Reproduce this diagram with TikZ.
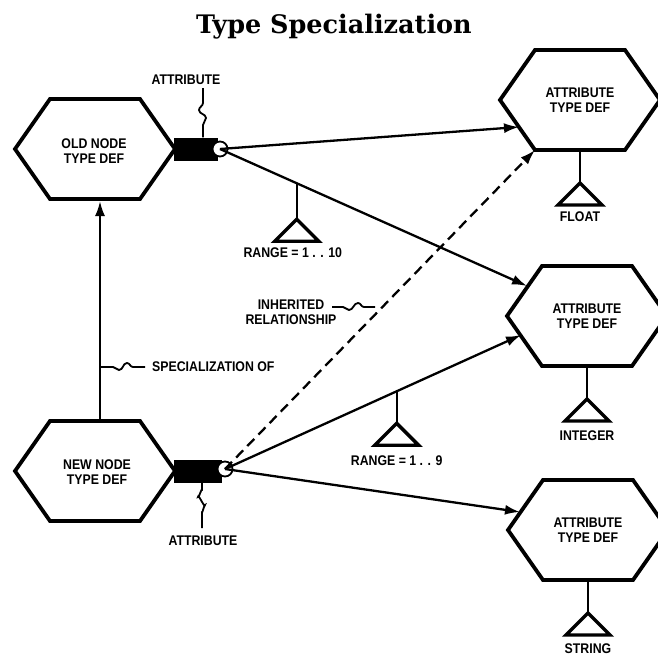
\documentclass[tikz,border=0pt]{standalone}
\usepackage{fontspec}
\usetikzlibrary{arrows.meta,calc}
\newfontfamily\labfont[FakeStretch=0.88]{Liberation Sans}
\newfontfamily\titlefont{DejaVu Serif}
\newcommand\hexshape[1]{\draw[hex] ($(#1)+(-80,0)$) -- ++(35,-50) -- ++(90,0) -- ++(35,50) -- ++(-35,50) -- ++(-90,0) -- cycle;}
\newcommand\typetri[3]{% #1 top point, #2 stem length, #3 apex name
  \draw[conn] (#1) -- ($(#1)+(0,#2)$) coordinate (#3);
  \draw[tri] (#3) -- ++(22,22) -- ++(-44,0) -- cycle;}
\begin{document}
\begin{tikzpicture}[x=1pt,y=-1pt,
  hex/.style={line width=3.8pt, line join=miter},
  lab/.style={font=\labfont\bfseries\fontsize{14}{15.5}\selectfont, align=center, inner sep=0pt},
  conn/.style={line width=2.3pt},
  wavy/.style={line width=1.8pt},
  arr/.style={conn, -{Latex[length=15pt,width=10pt]}},
  tri/.style={line width=3.4pt, line join=miter},
  bar/.style={fill=black, inner sep=0pt, anchor=west},
  ring/.style={circle, draw, fill=white, line width=1.8pt, minimum size=15pt, inner sep=0pt},
]
\useasboundingbox (0,0) rectangle (658,656);
\clip (0,0) rectangle (658,656);

% title
\node[font=\titlefont\bfseries\fontsize{25.5}{29}\selectfont, anchor=base] (title) at (334,33) {Type Specialization};

% hexagon nodes
\node[lab] (old) at (94,151) {OLD NODE\\TYPE DEF};
\node[lab] (new) at (97,472) {NEW NODE\\TYPE DEF};
\node[lab] (t1) at (580,100) {ATTRIBUTE\\TYPE DEF};
\node[lab] (t2) at (587,316) {ATTRIBUTE\\TYPE DEF};
\node[lab] (t3) at (588,530) {ATTRIBUTE\\TYPE DEF};
\hexshape{95,149}
\hexshape{95,471}
\hexshape{t1}
\hexshape{t2}
\hexshape{t3}

% type triangles
\coordinate (t1b) at ($(t1)+(0,50)$);
\coordinate (t2b) at ($(t2)+(0,50)$);
\coordinate (t3b) at ($(t3)+(0,50)$);
\typetri{t1b}{33}{t1ap}
\typetri{t2b}{33}{t2ap}
\typetri{t3b}{33}{t3ap}
\node[lab] (float) at ($(t1ap)+(0,34)$) {FLOAT};
\node[lab] (integer) at ($(t2ap)+(0,37)$) {INTEGER};
\node[lab] (string) at ($(t3ap)+(0,36)$) {STRING};

% attribute bars
\node[bar, minimum width=44pt, minimum height=23pt] (ob) at (174,149) {};
\node[bar, minimum width=48pt, minimum height=23pt] (nb) at (174,471) {};
\node[ring] (oc) at (220,149) {};
\node[ring] (nc) at (225,469) {};

% attribute labels with wavy leaders
\node[lab] (oal) at (186,80) {ATTRIBUTE};
\node[lab] (nal) at (203,541) {ATTRIBUTE};
\coordinate (oaw) at (203,88);
\coordinate (naw) at (202,528);
\draw[wavy] (oaw) -- (203,103) to[out=-90,in=90] (199,110) to[out=-90,in=90] (206,118) to[out=-90,in=90] (203,125) -- ($(ob.north west)+(29,0)$);
\draw[wavy] ($(nb.south west)+(28,0)$) -- (202,490) to[out=90,in=-90] (198,497) to[out=90,in=-90] (205,505) to[out=90,in=-90] (202,512) -- (naw);

% end points on the attribute type hexagons
\coordinate (t1in) at (519,127);
\coordinate (t1corner) at (535,150);
\coordinate (t2in) at (527,286);
\coordinate (t2in2) at (521,335);
\coordinate (t3in) at (520,512);

% connectors
\draw[arr] (oc.center) -- (t1in);
\draw[arr] (oc.center) -- coordinate[pos=0.25] (r1) (t2in);
\draw[arr, dash pattern=on 10pt off 6pt] (nc.center) -- (t1corner);
\draw[arr] (nc.center) -- coordinate[pos=0.58] (r2) (t2in2);
\draw[arr] (nc.center) -- (t3in);

% range triangles
\typetri{r1}{36}{r1ap}
\typetri{r2}{32}{r2ap}
\node[lab] (range1) at ($(r1ap)+(-4,33)$) {RANGE = 1 . . 10};
\node[lab] (range2) at ($(r2ap)+(0,37)$) {RANGE = 1 . . 9};

% specialization
\coordinate (newtop) at (100,421);
\coordinate (oldbot) at (100,201);
\draw[arr] (newtop) -- (oldbot);
\node[lab, anchor=west] (spec) at (152,367) {SPECIALIZATION OF};
\draw[wavy] (100,367) -- (113,367) to[out=0,in=180] (119,370) to[out=0,in=180] (127,363) to[out=0,in=180] (133,367) -- ($(spec.west)+(-7,0)$);

% inherited relationship
\node[lab] (inh) at (291,312) {INHERITED\\RELATIONSHIP};
\draw[wavy] (332,307) -- (343,307) to[out=0,in=180] (349,310) to[out=0,in=180] (358,303) to[out=0,in=180] (364,307) -- (375,307);
\end{tikzpicture}
\end{document}
